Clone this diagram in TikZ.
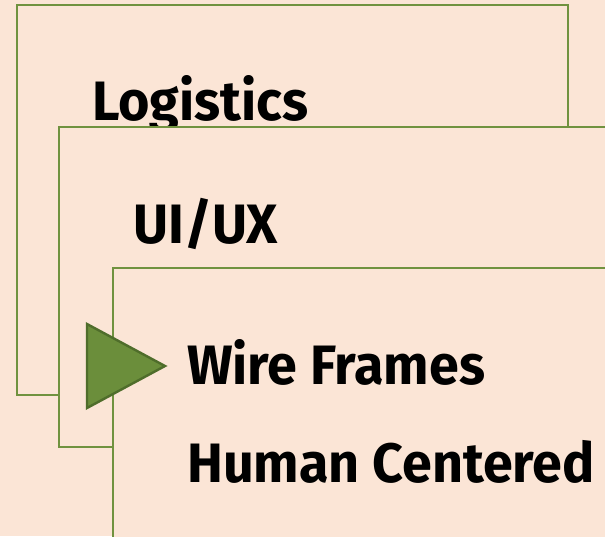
\documentclass[tikz,border=0pt]{standalone}
\usepackage{fontspec}
\setmainfont{Fira Sans}[FakeStretch=0.97]
\definecolor{peach}{HTML}{FBE5D6}
\definecolor{leaf}{HTML}{70923F}
\definecolor{leafdark}{HTML}{4F6D2B}
\definecolor{leaffill}{HTML}{6B8E3B}
\begin{document}
\begin{tikzpicture}[x=1pt,y=-1pt,
  panel/.style={draw=leaf,fill=peach,line width=2.4pt},
  label/.style={anchor=base west,inner sep=0pt,font=\fontsize{55.5}{60}\selectfont\bfseries}]
\fill[peach] (0,0) rectangle (605,536);
\useasboundingbox (0,0) rectangle (605,536);
\clip (0,0) rectangle (605,536);
\draw[panel] (17,5) rectangle (568,395);
\node[label] (logistics) at (92,120) {Logistics};
\draw[panel] (59,127) rectangle (640,447);
\node[label] (uiux) at (133,243) {UI/UX};
\draw[panel] (113,268) rectangle (640,600);
\node[label] (wire) at (187,384) {Wire Frames};
\node[label] (human) at (187,482) {Human Centered};
\draw[fill=leaffill,draw=leafdark,line width=2.4pt,line join=miter]
  (87,324) -- (165,366) -- (87,408) -- cycle;
\end{tikzpicture}
\end{document}
